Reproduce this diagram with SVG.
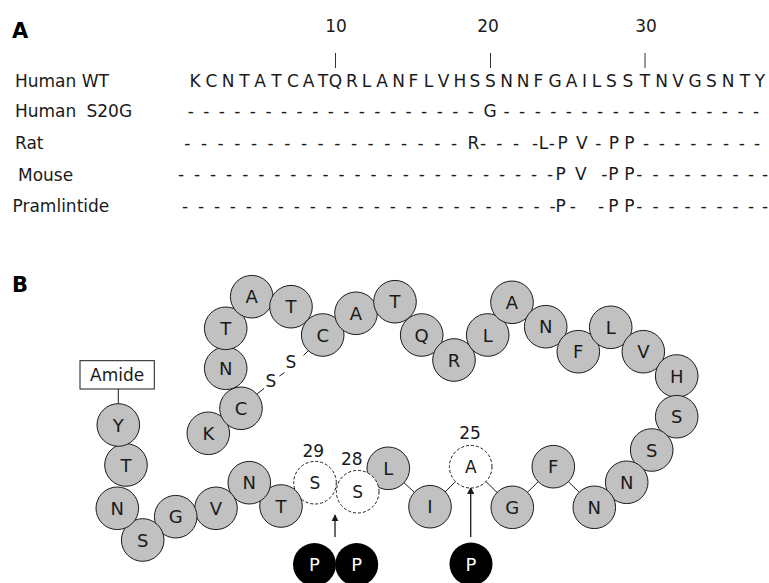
<svg xmlns="http://www.w3.org/2000/svg" width="769" height="583" viewBox="0 0 769 583">
<style>
text{font-family:"DejaVu Sans","Verdana",sans-serif;font-size:17px;fill:#1a1a1a}
.ttl{font-weight:bold;font-size:21px;fill:#000}
.seq{text-anchor:middle}
.res circle{fill:#c0c1c0;stroke:#1a1a1a;stroke-width:1}
.res text{text-anchor:middle;font-size:18px}
.mod circle{fill:#fff;stroke:#1a1a1a;stroke-width:1;stroke-dasharray:3 2}
.mod text{text-anchor:middle}
.ph circle{fill:#000}
.ph text{text-anchor:middle;fill:#fff;font-size:18px}
.ln{stroke:#1a1a1a;stroke-width:1;fill:none}
.arr{stroke:#1a1a1a;stroke-width:1.3;fill:none;marker-end:url(#ah)}
.tick{stroke:#333;stroke-width:1}
</style>
<defs>
<marker id="ah" viewBox="0 0 10 10" refX="9" refY="5" markerWidth="5.5" markerHeight="7.5" markerUnits="strokeWidth" orient="auto">
<path d="M0,0 L10,5 L0,10 z" fill="#1a1a1a"/>
</marker>
</defs>
<rect width="769" height="583" fill="#fff"/>

<!-- Panel A -->
<text class="ttl" x="12" y="38">A</text>
<g id="numbers">
<text class="seq" x="336" y="32">10</text>
<text class="seq" x="488" y="32">20</text>
<text class="seq" x="646" y="32">30</text>
<line class="tick" x1="335.5" y1="53" x2="335.5" y2="68"/>
<line class="tick" x1="490.5" y1="53" x2="490.5" y2="68"/>
<line class="tick" x1="645" y1="53" x2="645" y2="68"/>
</g>
<g id="labels">
<text x="15" y="87">Human WT</text>
<text x="15" y="116.5">Human<tspan x="86.5">S20G</tspan></text>
<text x="15" y="149">Rat</text>
<text x="18" y="181">Mouse</text>
<text x="12.5" y="212">Pramlintide</text>
</g>
<g id="rows">
<text class="seq" y="87" x="195 211.5 228 244.5 260 276.5 293 308.5 323 335.5 352 366.5 382 398.5 413.5 428.5 443.5 460 475 490.5 506.5 523 538.5 555 571.5 584.5 596.5 611.5 628 645 661.5 678 695 711.5 728 745 760">KCNTATCATQRLANFLVHSSNNFGAILSSTNVGSNTY</text>
<text class="seq" y="116.5" x="190.7 206.3 221.8 237.4 252.9 268.5 284.1 299.6 315.2 330.7 346.3 361.9 377.4 393 408.5 424.1 439.7 455.2 470.8 490 506.5 522.1 537.7 553.3 568.9 584.5 600.1 615.7 631.3 646.9 662.5 678.1 693.7 709.3 724.9 740.5 756.1">-------------------G-----------------</text>
<text class="seq" y="149" x="187.3 204 220.6 237.3 254 270.6 287.3 304 320.6 337.3 354 370.6 387.3 404 420.6 437.3 454 473.3 483 499.3 516 535 543.5 551.7 562.7 581.7 598.3 614 629.3 646 661.7 677.3 693.3 709.3 726 741.7 757">-----------------R----L-PV-PP--------</text>
<text class="seq" y="180" x="181 197.05 213.1 229.15 245.2 261.25 277.3 293.35 309.4 325.45 341.5 357.55 373.6 389.65 405.7 421.75 437.8 453.85 469.9 485.95 502 518.05 534.1 550.15 560.7 580.7 604.3 613.3 629.3 639.3 655.5 671.5 687.5 703.5 719.5 735.5 751 765">------------------------PV-PP---------</text>
<text class="seq" y="212" x="185 200.98 216.96 232.94 248.92 264.9 280.88 296.86 312.84 328.82 344.8 360.78 376.76 392.74 408.72 424.7 440.68 456.66 472.64 488.62 504.6 520.58 536.56 552.54 560.7 572.7 601 613.3 629.3 639.3 655.5 671.5 687.5 703.5 719.5 735.5 751 765">------------------------P--PP---------</text>
</g>

<!-- Panel B -->
<text class="ttl" x="12" y="292">B</text>

<g id="connectors">
<line class="ln" x1="388.3" y1="468.3" x2="430" y2="506.7"/>
<line class="ln" x1="430" y1="506.7" x2="470.7" y2="466.7"/>
<line class="ln" x1="470.7" y1="466.7" x2="512.3" y2="507.3"/>
<line class="ln" x1="512.3" y1="507.3" x2="553.3" y2="466.7"/>
<line class="ln" x1="553.3" y1="466.7" x2="594.3" y2="507.3"/>
<line class="ln" x1="118.3" y1="389" x2="118.3" y2="404"/>
<line class="ln" x1="257" y1="394" x2="264" y2="388.5"/>
<line class="ln" x1="279.5" y1="376" x2="284.5" y2="372.5"/>
<line class="ln" x1="303.5" y1="355.5" x2="309.5" y2="349.5"/>
<line class="arr" x1="335" y1="537" x2="335" y2="515"/>
<line class="arr" x1="470.7" y1="537" x2="470.7" y2="487.5"/>
</g>

<g id="disulfide">
<text x="271" y="387" text-anchor="middle">S</text>
<text x="291" y="367.5" text-anchor="middle">S</text>
</g>

<g id="amide">
<rect x="80" y="360.7" width="74.3" height="28.3" fill="#fff" stroke="#1a1a1a" stroke-width="1"/>
<text x="117.2" y="381" text-anchor="middle">Amide</text>
</g>

<g id="r1" class="res"><circle cx="208.3" cy="433.3" r="21.3"/><text x="208.3" y="439.8">K</text></g>
<g id="r2" class="res"><circle cx="241" cy="408.3" r="21.3"/><text x="241" y="414.8">C</text></g>
<g id="r3" class="res"><circle cx="225.7" cy="368.3" r="21.3"/><text x="225.7" y="374.8">N</text></g>
<g id="r4" class="res"><circle cx="225.7" cy="328.3" r="21.3"/><text x="225.7" y="334.8">T</text></g>
<g id="r5" class="res"><circle cx="251.7" cy="296.7" r="21.3"/><text x="251.7" y="303.2">A</text></g>
<g id="r6" class="res"><circle cx="291" cy="306.7" r="21.3"/><text x="291" y="313.2">T</text></g>
<g id="r7" class="res"><circle cx="322.7" cy="335" r="21.3"/><text x="322.7" y="341.5">C</text></g>
<g id="r8" class="res"><circle cx="356" cy="313.3" r="21.3"/><text x="356" y="319.8">A</text></g>
<g id="r9" class="res"><circle cx="395" cy="301.7" r="21.3"/><text x="395" y="308.2">T</text></g>
<g id="r10" class="res"><circle cx="421.7" cy="335" r="21.3"/><text x="421.7" y="341.5">Q</text></g>
<g id="r11" class="res"><circle cx="454" cy="360" r="21.3"/><text x="454" y="366.5">R</text></g>
<g id="r12" class="res"><circle cx="487.7" cy="335" r="21.3"/><text x="487.7" y="341.5">L</text></g>
<g id="r13" class="res"><circle cx="512" cy="302.3" r="21.3"/><text x="512" y="308.8">A</text></g>
<g id="r14" class="res"><circle cx="545.7" cy="326.7" r="21.3"/><text x="545.7" y="333.2">N</text></g>
<g id="r15" class="res"><circle cx="578.3" cy="351.7" r="21.3"/><text x="578.3" y="358.2">F</text></g>
<g id="r16" class="res"><circle cx="610.7" cy="327.3" r="21.3"/><text x="610.7" y="333.8">L</text></g>
<g id="r17" class="res"><circle cx="643.3" cy="351.7" r="21.3"/><text x="643.3" y="358.2">V</text></g>
<g id="r18" class="res"><circle cx="676.7" cy="376" r="21.3"/><text x="676.7" y="382.5">H</text></g>
<g id="r19" class="res"><circle cx="676.7" cy="416.7" r="21.3"/><text x="676.7" y="423.2">S</text></g>
<g id="r20" class="res"><circle cx="651.7" cy="450" r="21.3"/><text x="651.7" y="456.5">S</text></g>
<g id="r21" class="res"><circle cx="626.7" cy="482.3" r="21.3"/><text x="626.7" y="488.8">N</text></g>
<g id="r22" class="res"><circle cx="594.3" cy="507.3" r="21.3"/><text x="594.3" y="513.8">N</text></g>
<g id="r23" class="res"><circle cx="553.3" cy="466.7" r="21.3"/><text x="553.3" y="473.2">F</text></g>
<g id="r24" class="res"><circle cx="512.3" cy="507.3" r="21.3"/><text x="512.3" y="513.8">G</text></g>
<g id="r25" class="mod"><circle cx="470.7" cy="466.7" r="21.3"/><text x="470.7" y="473">A</text><text x="470" y="439.3">25</text></g>
<g id="r26" class="res"><circle cx="430" cy="506.7" r="21.3"/><text x="430" y="513.2">I</text></g>
<g id="r27" class="res"><circle cx="388.3" cy="468.3" r="21.3"/><text x="388.3" y="474.8">L</text></g>
<g id="r28" class="mod"><circle cx="357.7" cy="491.7" r="21.3"/><text x="357.7" y="498">S</text><text x="351.7" y="465">28</text></g>
<g id="r29" class="mod"><circle cx="315" cy="482.7" r="21.3"/><text x="315" y="489">S</text><text x="313.3" y="456.7">29</text></g>
<g id="r30" class="res"><circle cx="281" cy="506" r="21.3"/><text x="281" y="512.5">T</text></g>
<g id="r31" class="res"><circle cx="249.3" cy="482.7" r="21.3"/><text x="249.3" y="489.2">N</text></g>
<g id="r32" class="res"><circle cx="216" cy="508.3" r="21.3"/><text x="216" y="514.8">V</text></g>
<g id="r33" class="res"><circle cx="175.7" cy="516.7" r="21.3"/><text x="175.7" y="523.2">G</text></g>
<g id="r34" class="res"><circle cx="142.7" cy="540" r="21.3"/><text x="142.7" y="546.5">S</text></g>
<g id="r35" class="res"><circle cx="117.3" cy="508.3" r="21.3"/><text x="117.3" y="514.8">N</text></g>
<g id="r36" class="res"><circle cx="126" cy="465" r="21.3"/><text x="126" y="471.5">T</text></g>
<g id="r37" class="res"><circle cx="118.3" cy="425" r="21.3"/><text x="118.3" y="431.5">Y</text></g>

<g id="p1" class="ph"><circle cx="314.5" cy="564.5" r="21.5"/><text x="314.5" y="571">P</text></g>
<g id="p2" class="ph"><circle cx="356.7" cy="564.5" r="21.5"/><text x="356.7" y="571">P</text></g>
<g id="p3" class="ph"><circle cx="471" cy="564" r="21.5"/><text x="471" y="570.5">P</text></g>
</svg>
